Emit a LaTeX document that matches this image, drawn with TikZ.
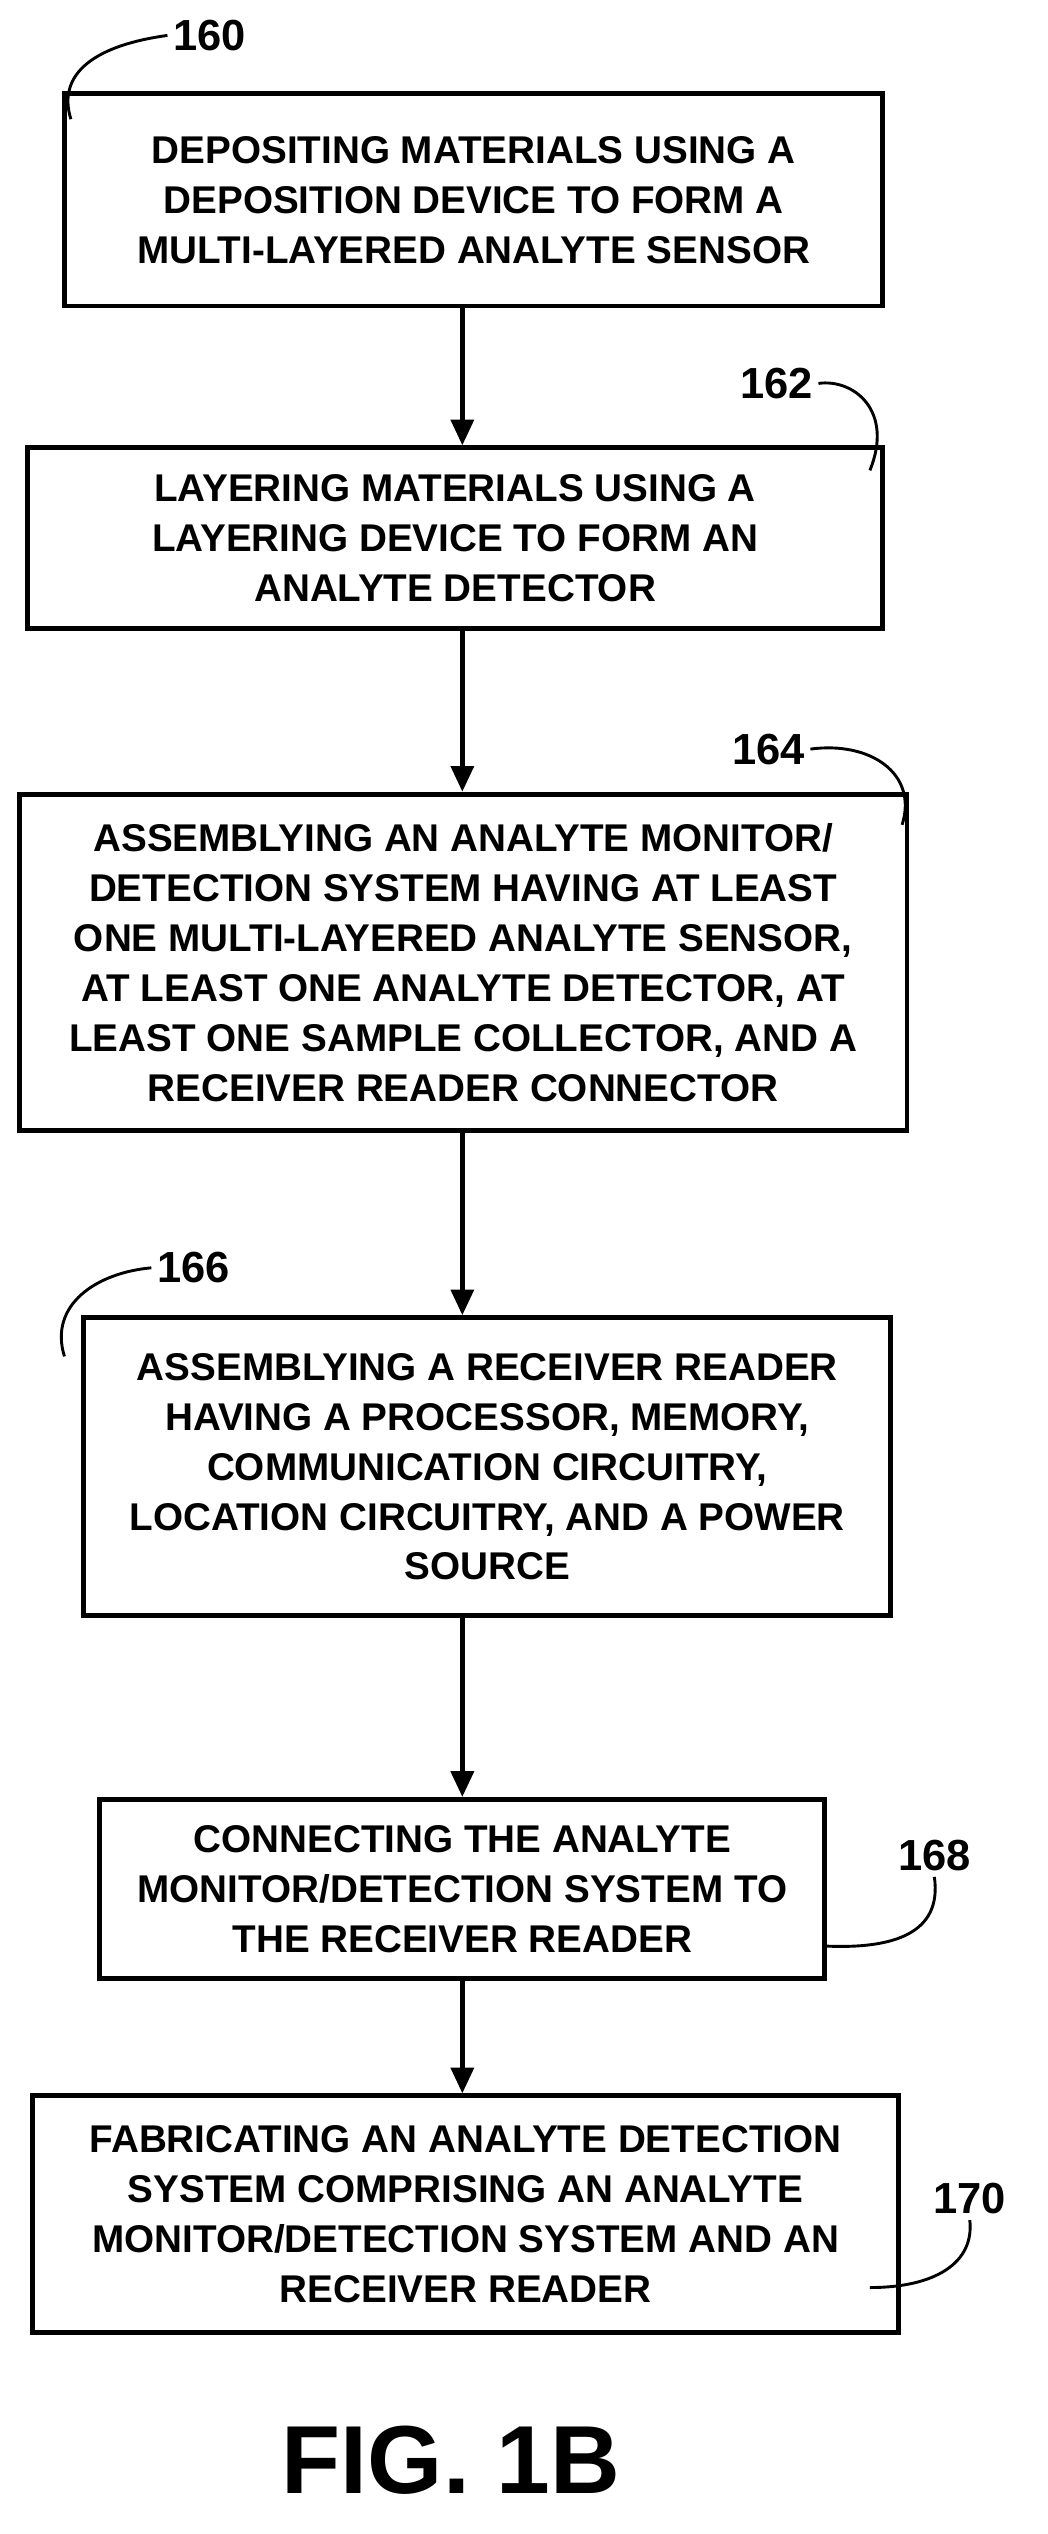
\documentclass[tikz,border=0pt]{standalone}
\usepackage{fontspec}
\setmainfont{Liberation Sans}
\usetikzlibrary{arrows.meta}
\begin{document}
\begin{tikzpicture}[x=1pt,y=-1pt,
  box/.style={draw,line width=3pt,align=center,font=\bfseries\fontsize{24}{31}\selectfont,inner sep=0pt},
  arr/.style={line width=3pt,-{Triangle[length=16pt,width=14pt]}},
  lead/.style={line width=1.8pt},
  num/.style={font=\bfseries\fontsize{27}{30}\selectfont}]
\useasboundingbox (0,0) rectangle (650,1573);
\node[box,minimum width=508pt,minimum height=132pt] (b1) at (294,124) {DEPOSITING MATERIALS USING A\\DEPOSITION DEVICE TO FORM A\\MULTI-LAYERED ANALYTE SENSOR};
\node[box,minimum width=531pt,minimum height=112pt] (b2) at (282.5,334) {LAYERING MATERIALS USING A\\LAYERING DEVICE TO FORM AN\\ANALYTE DETECTOR};
\node[box,minimum width=551pt,minimum height=209pt] (b3) at (287.5,597.5) {ASSEMBLYING AN ANALYTE MONITOR/\\DETECTION SYSTEM HAVING AT LEAST\\ONE MULTI-LAYERED ANALYTE SENSOR,\\AT LEAST ONE ANALYTE DETECTOR, AT\\LEAST ONE SAMPLE COLLECTOR, AND A\\RECEIVER READER CONNECTOR};
\node[box,minimum width=501pt,minimum height=185pt] (b4) at (302.5,910.5) {ASSEMBLYING A RECEIVER READER\\HAVING A PROCESSOR, MEMORY,\\COMMUNICATION CIRCUITRY,\\LOCATION CIRCUITRY, AND A POWER\\SOURCE};
\node[box,minimum width=450pt,minimum height=111pt] (b5) at (287,1172.5) {CONNECTING THE ANALYTE\\MONITOR/DETECTION SYSTEM TO\\THE RECEIVER READER};
\node[box,minimum width=538pt,minimum height=147pt] (b6) at (289,1374.5) {FABRICATING AN ANALYTE DETECTION\\SYSTEM COMPRISING AN ANALYTE\\MONITOR/DETECTION SYSTEM AND AN\\RECEIVER READER};
\draw[arr] (b1.south -| 287,0) -- (b2.north -| 287,0);
\draw[arr] (b2.south -| 287,0) -- (b3.north -| 287,0);
\draw[arr] (b3.south -| 287,0) -- (b4.north -| 287,0);
\draw[arr] (b4.south -| 287,0) -- (b5.north -| 287,0);
\draw[arr] (b5.south -| 287,0) -- (b6.north -| 287,0);
\node[num] (n160) at (130,22) {160};
\node[num] (n162) at (482,238) {162};
\node[num] (n164) at (477,465) {164};
\node[num] (n166) at (120,787) {166};
\node[num] (n168) at (580,1152) {168};
\node[num] (n170) at (602,1365) {170};
\coordinate (c160) at (44,74);
\coordinate (c162) at (540,292);
\coordinate (c164) at (560,512);
\coordinate (c166) at (40,842);
\coordinate (c168) at (512,1208);
\coordinate (c170) at (540,1420);
\draw[lead] (c160) .. controls (35,45) and (60,28) .. (n160.west);
\draw[lead] (n162.east) .. controls (530,235) and (555,255) .. (c162);
\draw[lead] (n164.east) .. controls (540,460) and (570,480) .. (c164);
\draw[lead] (c166) .. controls (30,810) and (60,790) .. (n166.west);
\draw[lead] (c168) .. controls (555,1210) and (585,1200) .. (n168.south);
\draw[lead] (c170) .. controls (580,1420) and (605,1405) .. (n170.south);
\node[font=\bfseries\fontsize{60}{66}\selectfont] (fig) at (280,1527) {FIG. 1B};
\end{tikzpicture}
\end{document}
